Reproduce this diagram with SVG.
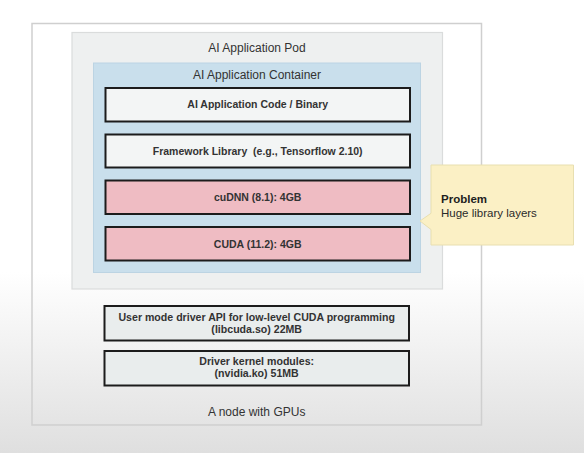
<svg xmlns="http://www.w3.org/2000/svg" width="584" height="453" viewBox="0 0 584 453">
<defs>
<linearGradient id="bg" x1="0" y1="0" x2="0" y2="1">
<stop offset="0" stop-color="#ffffff"/>
<stop offset="0.6" stop-color="#ffffff"/>
<stop offset="1" stop-color="#dfdfdf"/>
</linearGradient>
<style>
text{font-family:"Liberation Sans",Arial,sans-serif;text-anchor:middle;fill:#2a2a2a}
.title{font-size:12px;fill:#333}
.lbl{font-size:10.5px;font-weight:bold;fill:#333}
.lbl2{font-size:10.6px;font-weight:bold;fill:#333}
.box{fill:#f3f5f5;stroke:#1c1c1c;stroke-width:2}
.pink{fill:#efbcc3;stroke:#1c1c1c;stroke-width:2}
.drv{fill:#e9eded;stroke:#1c1c1c;stroke-width:2}
</style>
</defs>
<rect width="584" height="453" fill="url(#bg)"/>
<g id="node">
<rect x="32" y="23.5" width="449.5" height="401.5" fill="none" stroke="#cfcfcf" stroke-width="1.5"/>
<text class="title" x="256.7" y="416">A node with GPUs</text>
</g>
<g id="pod">
<rect x="72" y="32.5" width="370.5" height="256.5" fill="#eef0f0" stroke="#dadcdc" stroke-width="1.2"/>
<text class="title" x="257" y="52">AI Application Pod</text>
</g>
<g id="container">
<rect x="93.5" y="63" width="327" height="209.5" fill="#c9dfec" stroke="#bcd4e3" stroke-width="1"/>
<text class="title" x="257" y="79">AI Application Container</text>
</g>
<g id="code">
<rect class="box" x="105.5" y="88" width="304.5" height="33.5"/>
<text class="lbl" x="257.7" y="108.3">AI Application Code / Binary</text>
</g>
<g id="framework">
<rect class="box" x="105.5" y="134.5" width="304.5" height="33"/>
<text class="lbl" x="257.7" y="154.5">Framework Library&#160; (e.g., Tensorflow 2.10)</text>
</g>
<g id="cudnn">
<rect class="pink" x="105.5" y="180.5" width="304.5" height="33.5"/>
<text class="lbl" x="257.7" y="201">cuDNN (8.1): 4GB</text>
</g>
<g id="cuda">
<rect class="pink" x="105.5" y="227" width="304.5" height="33.5"/>
<text class="lbl" x="257.7" y="247.6">CUDA (11.2): 4GB</text>
</g>
<g id="usermode">
<rect class="drv" x="104.5" y="306" width="304.5" height="34.5"/>
<text class="lbl2" x="256.7" y="321">User mode driver API for low-level CUDA programming</text>
<text class="lbl2" x="256.7" y="332.8">(libcuda.so) 22MB</text>
</g>
<g id="kernel">
<rect class="drv" x="104.5" y="351" width="304.5" height="34.5"/>
<text class="lbl2" x="256.7" y="365">Driver kernel modules:</text>
<text class="lbl2" x="256.7" y="377.4">(nvidia.ko) 51MB</text>
</g>
<g id="problem">
<path d="M431 165 H573.5 V245 H431 V229.5 L420 221 L431 213.3 Z" fill="#fbf0c5" stroke="#e8dfb0" stroke-width="1"/>
<text x="441" y="202.7" style="text-anchor:start;font-size:11.5px;font-weight:bold;fill:#1e1e1e">Problem</text>
<text x="441" y="216.8" style="text-anchor:start;font-size:11.5px;fill:#2a2a2a">Huge library layers</text>
</g>
<g id="connectors"></g>
</svg>
